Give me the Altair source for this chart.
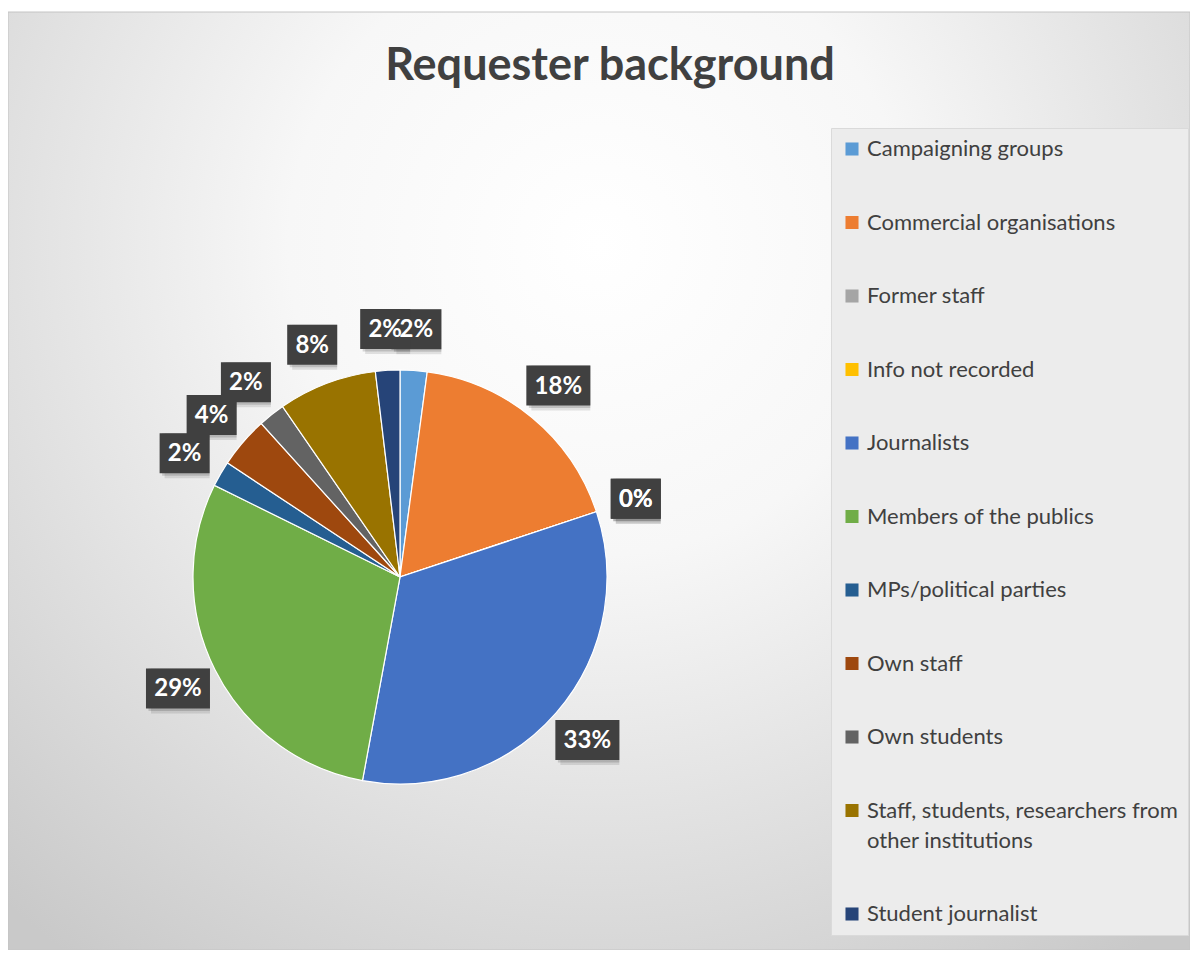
import altair as alt
import pandas as pd

categories = [
    "Campaigning groups",
    "Commercial organisations",
    "Former staff",
    "Info not recorded",
    "Journalists",
    "Members of the publics",
    "MPs/political parties",
    "Own staff",
    "Own students",
    "Staff, students, researchers from other institutions",
    "Student journalist",
]
shares = [2.1, 17.8, 0.0, 0.0, 33.0, 29.4, 2.0, 4.0, 2.1, 7.7, 1.9]
colors = ["#5B9BD5", "#ED7D31", "#A5A5A5", "#FFC000", "#4472C4", "#70AD47",
          "#255E91", "#9E480E", "#636363", "#997300", "#264478"]

df = pd.DataFrame({"category": categories, "share": shares, "idx": list(range(len(categories)))})

W, H = 1182, 938
R = 207.0           # pie radius in px (one scale unit)
CX, CY = 392, 565   # pie centre inside the plot, px
LABEL_R = 1.2       # label distance in radii

xs = alt.Scale(domain=[-CX / R, (W - CX) / R], nice=False, zero=False)
ys = alt.Scale(domain=[-(H - CY) / R, CY / R], nice=False, zero=False)

FONT = "Lato"
long_label = "Staff, students, researchers from other institutions"

color_enc = alt.Color(
    "category:N",
    scale=alt.Scale(domain=categories, range=colors),
    sort=categories,
    title=None,
    legend=alt.Legend(
        orient="none", legendX=823, legendY=116,
        symbolType="square", symbolSize=170, symbolStrokeWidth=0,
        labelFont=FONT, labelFontSize=22, labelColor="#404040", labelLimit=420,
        labelOffset=4, rowPadding=51.5, padding=10,
        fillColor="#ececec", strokeColor="#dadada",
        labelExpr=f"datum.label == '{long_label}' ? ['Staff, students, researchers from', 'other institutions'] : datum.label",
    ),
)

base = alt.Chart(df)

bg = base.mark_rect(
    stroke="#c4c4c4", strokeWidth=1,
    color={
        "gradient": "radial",
        "x1": 0.5, "y1": 0.3, "r1": 0.0,
        "x2": 0.5, "y2": 0.3, "r2": 0.75,
        "stops": [
            {"offset": 0.0, "color": "#ffffff"},
            {"offset": 0.35, "color": "#f7f7f7"},
            {"offset": 1.0, "color": "#c9c9c9"},
        ],
    },
).encode(x=alt.value(0), x2=alt.value(W), y=alt.value(0), y2=alt.value(H)).transform_filter("datum.idx == 0")

pie = base.mark_arc(outerRadius=R, stroke="white", strokeWidth=1.2).encode(
    theta=alt.Theta("share:Q", stack=True),
    color=color_enc,
    order=alt.Order("idx:Q"),
    x=alt.datum(0, scale=xs, axis=None),
    y=alt.datum(0, scale=ys, axis=None),
)

lab = base.transform_window(
    cum="sum(share)", sort=[alt.SortField("idx")], frame=[None, 0]
).transform_joinaggregate(
    total="sum(share)"
).transform_calculate(
    mid="(datum.cum - datum.share / 2) / datum.total * 2 * PI",
    pct="format(round(datum.share / datum.total * 100), 'd') + '%'",
).transform_calculate(
    lx=f"{LABEL_R} * sin(datum.mid)",
    ly=f"{LABEL_R} * cos(datum.mid)",
    hw=f"(7 * length(datum.pct) + 11) / {R}",
    hh=f"20 / {R}",
).transform_calculate(
    x0="datum.lx - datum.hw", x1="datum.lx + datum.hw",
    y0="datum.ly - datum.hh", y1="datum.ly + datum.hh",
)

shadow1 = lab.mark_rect(color="#000000", opacity=0.10, xOffset=5, yOffset=5).encode(
    x=alt.X("x0:Q", scale=xs, axis=None), x2="x1:Q",
    y=alt.Y("y0:Q", scale=ys, axis=None), y2="y1:Q",
    order=alt.Order("idx:Q"),
)
shadow2 = lab.mark_rect(color="#000000", opacity=0.15, xOffset=2.5, yOffset=2.5).encode(
    x=alt.X("x0:Q", scale=xs, axis=None), x2="x1:Q",
    y=alt.Y("y0:Q", scale=ys, axis=None), y2="y1:Q",
    order=alt.Order("idx:Q"),
)
boxes = lab.mark_rect(color="#404040").encode(
    x=alt.X("x0:Q", scale=xs, axis=None), x2="x1:Q",
    y=alt.Y("y0:Q", scale=ys, axis=None), y2="y1:Q",
    order=alt.Order("idx:Q"),
)
texts = lab.mark_text(font=FONT, fontSize=24, fontWeight="bold", color="white",
                      align="center", baseline="middle", dy=1).encode(
    x=alt.X("lx:Q", scale=xs, axis=None),
    y=alt.Y("ly:Q", scale=ys, axis=None),
    text="pct:N",
    order=alt.Order("idx:Q"),
)

chart = alt.layer(bg, pie, shadow1, shadow2, boxes, texts).resolve_scale(
    x="shared", y="shared"
).properties(
    width=W, height=H,
    autosize=alt.AutoSizeParams(type="none"),
    padding={"left": 0, "top": 4, "right": 0, "bottom": 0},
    title=alt.TitleParams(
        "Requester background", font=FONT, fontSize=45, fontWeight="bold",
        color="#404040", anchor="middle", dx=11, dy=81,
    ),
).configure(
    style={"guide-label": {"lineHeight": 30}}
).configure_view(stroke=None)

chart.save("out.html", embed_options={"renderer": "svg", "actions": False})
